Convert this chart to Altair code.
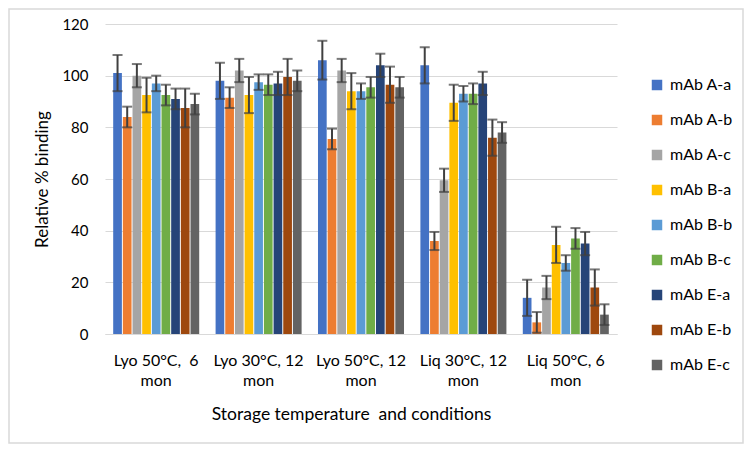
import altair as alt
import pandas as pd

NB = "\u00a0"
categories = ["Lyo 50°C," + NB + " 6|mon", "Lyo 30°C, 12|mon", "Lyo 50°C, 12|mon", "Liq 30°C, 12|mon", "Liq 50°C, 6|mon"]
series = ["mAb A-a", "mAb A-b", "mAb A-c", "mAb B-a", "mAb B-b", "mAb B-c", "mAb E-a", "mAb E-b", "mAb E-c"]
colors = ["#4472C4", "#ED7D31", "#A5A5A5", "#FFC000", "#5B9BD5", "#70AD47", "#264478", "#9E480E", "#636363"]

values = {
    "mAb A-a": [101, 98, 106, 104, 14],
    "mAb A-b": [84, 91.5, 75.5, 36, 4.5],
    "mAb A-c": [100, 102, 102, 59.5, 18],
    "mAb B-a": [92.5, 92.5, 94, 89.5, 34.5],
    "mAb B-b": [97, 97.5, 94, 93, 27.5],
    "mAb B-c": [92.5, 96.5, 95.5, 93, 37],
    "mAb E-a": [91, 97, 104, 97, 35],
    "mAb E-b": [87.5, 99.5, 96.5, 76, 18],
    "mAb E-c": [89, 98, 95.5, 78, 7.5],
}
errors = {
    "mAb A-a": [7, 7, 7.5, 7, 7],
    "mAb A-b": [4, 4, 4, 3.5, 4],
    "mAb A-c": [4.5, 4.5, 4.5, 4.5, 4.5],
    "mAb B-a": [6.7, 7, 7, 7, 7],
    "mAb B-b": [3, 3, 3, 3, 3],
    "mAb B-c": [4, 4, 4, 4, 4],
    "mAb E-a": [4, 4.5, 4.5, 4.5, 4.5],
    "mAb E-b": [7.5, 7, 7, 7, 7],
    "mAb E-c": [4, 4, 4, 4, 4],
}

rows = []
for s in series:
    for i, c in enumerate(categories):
        v = values[s][i]
        e = errors[s][i]
        rows.append({"cond": c, "series": s, "value": v, "lo": max(v - e, 0), "hi": v + e})
df = pd.DataFrame(rows)

FONT = "Lato"
W, H = 512, 310

x_enc = alt.X(
    "cond:N", sort=categories,
    scale=alt.Scale(paddingInner=0.16, paddingOuter=0.08),
    axis=alt.Axis(
        title="Storage temperature" + NB + " and conditions",
        labelExpr="split(datum.label, '|')",
        labelAngle=0, labelFontSize=16, labelLineHeight=20, labelPadding=18,
        labelColor="#000000", labelFont=FONT, labelBaseline="top",
        ticks=False, domain=True, domainColor="#d9d9d9", domainWidth=1,
        titleFontSize=17.5, titleFont=FONT, titleFontWeight="normal", titleColor="#000000",
        titleX=246, titleY=80, titleBaseline="middle", titleAlign="center",
    ),
)
xo = alt.XOffset("series:N", sort=series, scale=alt.Scale(paddingInner=0.1, paddingOuter=0))
y_scale = alt.Scale(domain=[0, 120], nice=False)

bars = alt.Chart(df).mark_bar().encode(
    x=x_enc,
    xOffset=xo,
    y=alt.Y("value:Q", scale=y_scale, axis=alt.Axis(
        title="Relative % binding", values=[0, 20, 40, 60, 80, 100, 120],
        grid=True, gridColor="#d9d9d9", gridWidth=1, ticks=False, domain=False,
        labelFontSize=15, labelFont=FONT, labelColor="#000000", labelPadding=17,
        titleFontSize=17, titleFont=FONT, titleFontWeight="normal", titleColor="#000000",
        titleX=-63, titleBaseline="middle",
    )),
    color=alt.Color("series:N", sort=series, scale=alt.Scale(domain=series, range=colors),
                    legend=alt.Legend(title=None, orient="none", legendX=544, legendY=53,
                                      symbolType="square", symbolSize=110, symbolStrokeWidth=0,
                                      labelFontSize=16, labelFont=FONT, labelColor="#000000",
                                      rowPadding=19, labelOffset=5)),
)

rules = alt.Chart(df).mark_rule(color="#404040", strokeWidth=2).encode(
    x=alt.X("cond:N", sort=categories),
    xOffset=alt.XOffset("series:N", sort=series),
    y=alt.Y("lo:Q", scale=y_scale),
    y2="hi:Q",
)
caps_hi = alt.Chart(df).mark_tick(color="#404040", thickness=2, size=10).encode(
    x=alt.X("cond:N", sort=categories),
    xOffset=alt.XOffset("series:N", sort=series),
    y=alt.Y("hi:Q", scale=y_scale),
)
caps_lo = alt.Chart(df).mark_tick(color="#404040", thickness=2, size=10).encode(
    x=alt.X("cond:N", sort=categories),
    xOffset=alt.XOffset("series:N", sort=series),
    y=alt.Y("lo:Q", scale=y_scale),
)

border = alt.Chart(pd.DataFrame({"a": [0]})).mark_rect(
    fill=None, stroke="#d9d9d9", strokeWidth=1.5
).encode(
    x=alt.value(-96), x2=alt.value(W + 126), y=alt.value(-15), y2=alt.value(H + 109)
)

chart = alt.layer(border, bars, rules, caps_hi, caps_lo).properties(
    width=W, height=H,
    autosize=alt.AutoSizeParams(type="none"),
    padding={"left": 97, "top": 16, "right": 127, "bottom": 110},
).configure_view(stroke=None)

chart.save("out.html", embed_options={"renderer": "svg", "actions": False})
